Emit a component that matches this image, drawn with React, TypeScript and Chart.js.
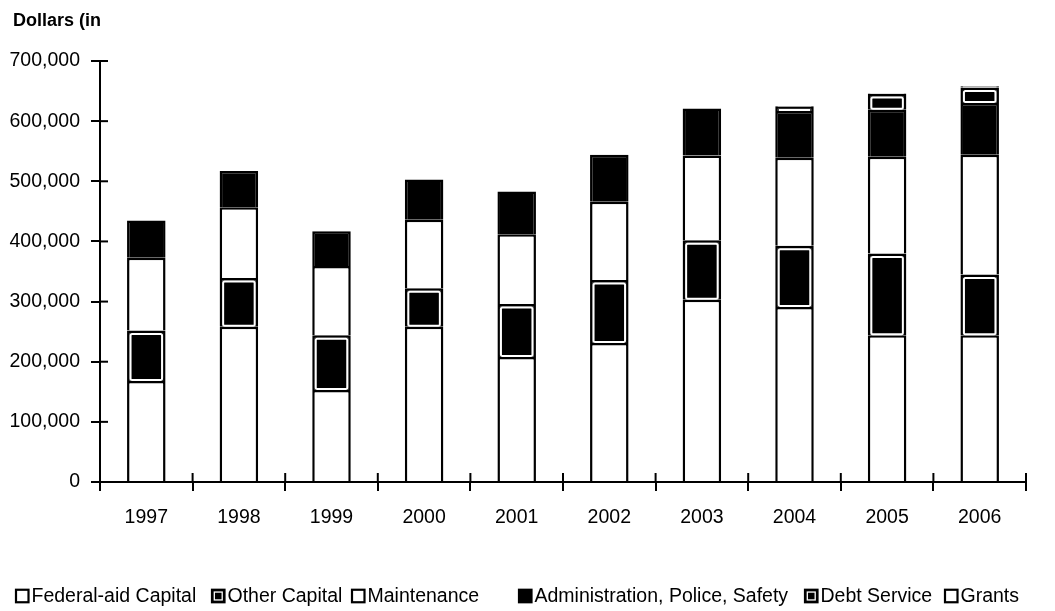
import React, { useEffect, useRef } from "react";
import { Chart, registerables } from "chart.js";

Chart.register(...registerables);

// ---------- data ----------
const years = ["1997", "1998", "1999", "2000", "2001", "2002", "2003", "2004", "2005", "2006"];
const federalAidCapital = [168000, 258000, 153000, 258000, 208000, 231000, 303000, 291000, 244000, 244000];
const otherCapital = [84000, 81000, 91000, 64000, 88000, 105000, 99000, 102000, 136000, 101000];
const maintenance = [121000, 118000, 115000, 114000, 116000, 130000, 141000, 146000, 161000, 199000];
const administration = [62000, 60000, 58000, 67000, 71000, 78000, 78000, 78000, 78000, 86000];
const debtService = [0, 0, 0, 0, 0, 0, 0, 7000, 26000, 26000];
const grants = [0, 0, 0, 0, 0, 0, 0, 1000, 1000, 2000];
const seriesLabels = [
  "Federal-aid Capital",
  "Other Capital",
  "Maintenance",
  "Administration, Police, Safety",
  "Debt Service",
  "Grants",
];
const yMin = 0;
const yMax = 700000;
const yStep = 100000;
const yAxisTitle = "Dollars (in";

// ---------- styles ----------
type Style = "white" | "black" | "framed";
const seriesStyles: Style[] = ["white", "framed", "white", "black", "framed", "white"];
const BW = 2.5;
const LEGEND_ICON_X = [16, 212, 352, 519, 805, 945];

function hasFont(name: string): boolean {
  const c = document.createElement("canvas").getContext("2d");
  if (!c) return false;
  const s = "abcdefghijklmnop 1234567890 Federal-aid";
  c.font = "40px monospace";
  const a = c.measureText(s).width;
  c.font = `40px "${name}", monospace`;
  const b = c.measureText(s).width;
  return Math.abs(a - b) > 0.5;
}

export default function App() {
  const ref = useRef<HTMLCanvasElement | null>(null);

  useEffect(() => {
    if (!ref.current) return;
    const narrow = hasFont("Liberation Sans Narrow");
    const fam = narrow ? '"Liberation Sans Narrow", "Liberation Sans", Arial, sans-serif' : '"Liberation Sans", Arial, sans-serif';
    const tickSize = narrow ? 23 : 19.5;
    const legendSize = narrow ? 23.5 : 19.5;

    const seriesData = [federalAidCapital, otherCapital, maintenance, administration, debtService, grants];

    const datasets = seriesLabels.map((label, i) => ({
      label,
      data: seriesData[i],
      backgroundColor: seriesStyles[i] === "white" ? "#ffffff" : "#000000",
      borderColor: "#000000",
      borderWidth: BW,
      borderSkipped: "start" as const,
      framed: seriesStyles[i] === "framed",
      barPercentage: 0.416,
      categoryPercentage: 1.0,
    }));

    const framePlugin = {
      id: "innerFrame",
      afterDatasetsDraw(chart: any) {
        const ctx = chart.ctx;
        chart.data.datasets.forEach((ds: any, i: number) => {
          if (!ds.framed) return;
          const meta = chart.getDatasetMeta(i);
          meta.data.forEach((bar: any, j: number) => {
            if (!ds.data[j]) return;
            const p = bar.getProps(["x", "y", "base", "width"], true);
            const left = p.x - p.width / 2 + BW + 1;
            const right = p.x + p.width / 2 - BW - 1;
            const top = p.y + BW + 1;
            const bottom = p.base - 1;
            ctx.save();
            ctx.strokeStyle = "#ffffff";
            ctx.lineWidth = 2;
            ctx.beginPath();
            if (bottom - top < 2) {
              const m = (top + bottom) / 2;
              ctx.moveTo(left, m);
              ctx.lineTo(right, m);
            } else {
              ctx.roundRect(left, top, right - left, bottom - top, 1.5);
            }
            ctx.stroke();
            ctx.restore();
          });
        });
      },
    };

    const decoPlugin = {
      id: "deco",
      afterDraw(chart: any) {
        const ctx = chart.ctx;
        const area = chart.chartArea;
        const xs = chart.scales.x;
        const ys = chart.scales.y;
        ctx.save();
        ctx.strokeStyle = "#000";
        ctx.lineWidth = 2;
        // inner halves of the crossing ticks
        ys.ticks.forEach((_t: any, i: number) => {
          const py = ys.getPixelForTick(i);
          ctx.beginPath();
          ctx.moveTo(area.left, py);
          ctx.lineTo(area.left + 8, py);
          ctx.stroke();
        });
        for (let i = 0; i <= years.length; i++) {
          const px = xs.getPixelForValue(i - 0.5);
          ctx.beginPath();
          ctx.moveTo(px, area.bottom);
          ctx.lineTo(px, area.bottom - 9);
          ctx.stroke();
        }
        // title
        ctx.fillStyle = "#000";
        ctx.font = 'bold 18px "Liberation Sans", Arial, sans-serif';
        ctx.textAlign = "left";
        ctx.textBaseline = "alphabetic";
        ctx.fillText(yAxisTitle, 13, 26);
        // legend
        const cy = 596;
        const sz = 12.5;
        ctx.font = `${legendSize}px ${fam}`;
        ctx.textBaseline = "middle";
        seriesLabels.forEach((label, i) => {
          const ix = LEGEND_ICON_X[i];
          const st = seriesStyles[i];
          ctx.fillStyle = st === "white" ? "#fff" : "#000";
          ctx.fillRect(ix, cy - sz / 2, sz, sz);
          ctx.strokeStyle = "#000";
          ctx.lineWidth = 2.2;
          ctx.strokeRect(ix, cy - sz / 2, sz, sz);
          if (st === "framed") {
            ctx.strokeStyle = "#fff";
            ctx.lineWidth = 1.3;
            ctx.strokeRect(ix + 2.3, cy - sz / 2 + 2.3, sz - 4.6, sz - 4.6);
          }
          ctx.fillStyle = "#000";
          ctx.fillText(label, ix + sz + 3, cy + 1);
        });
        ctx.restore();
      },
    };

    const chart = new Chart(ref.current, {
      type: "bar",
      data: { labels: years, datasets: datasets as any },
      options: {
        responsive: false,
        animation: false,
        events: [],
        layout: { padding: { left: 0, right: 29, top: 61, bottom: 0 } },
        plugins: { legend: { display: false }, tooltip: { enabled: false }, title: { display: false } },
        scales: {
          x: {
            stacked: true,
            grid: { display: true, drawOnChartArea: false, drawTicks: true, tickLength: 9, color: "#000", lineWidth: 2, offset: true },
            border: { display: true, color: "#000", width: 2 },
            ticks: { color: "#000", font: { family: fam, size: tickSize }, padding: 15, maxRotation: 0, autoSkip: false },
            afterFit(scale: any) {
              scale.height = 129;
            },
          },
          y: {
            stacked: true,
            min: yMin,
            max: yMax,
            grid: { display: true, drawOnChartArea: false, drawTicks: true, tickLength: 9, color: "#000", lineWidth: 2 },
            border: { display: true, color: "#000", width: 2 },
            ticks: {
              stepSize: yStep,
              color: "#000",
              font: { family: fam, size: tickSize },
              padding: 11,
              callback: (v: any) => Number(v).toLocaleString("en-US"),
            },
            afterFit(scale: any) {
              scale.width = 100;
            },
          },
        },
      },
      plugins: [framePlugin, decoPlugin],
    });
    return () => chart.destroy();
  }, []);

  return (
    <div style={{ position: "absolute", left: 0, top: 0, width: 1055, height: 611, background: "#fff" }}>
      <canvas ref={ref} width={1055} height={611} style={{ display: "block" }} />
    </div>
  );
}
